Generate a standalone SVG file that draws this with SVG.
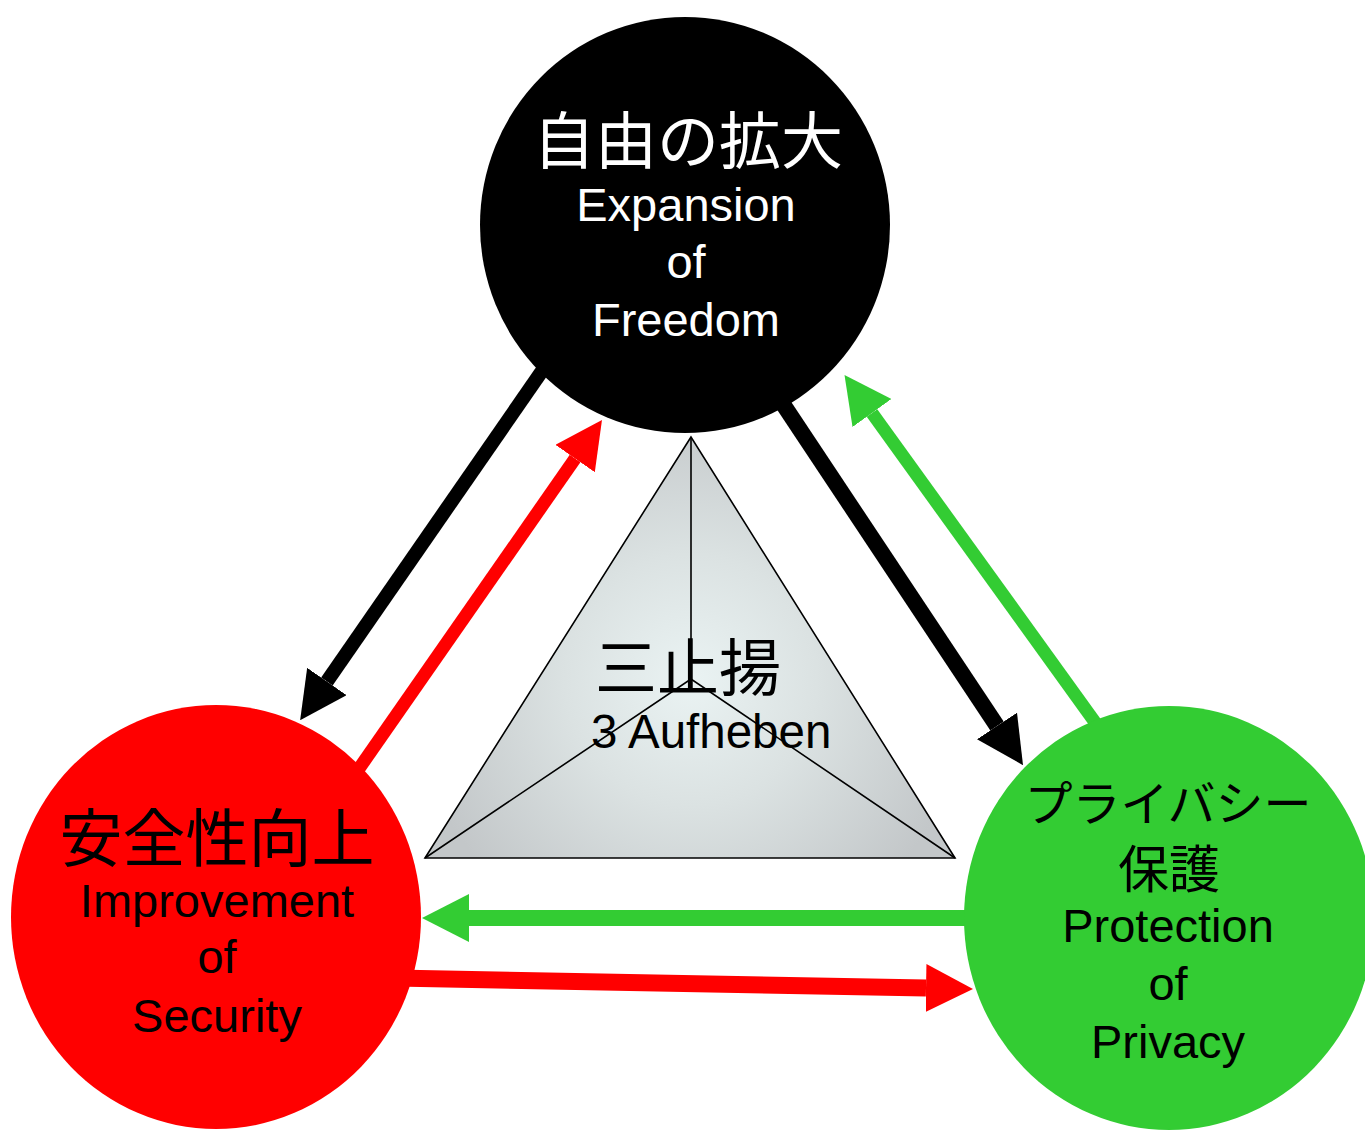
<svg xmlns="http://www.w3.org/2000/svg" width="1365" height="1130" viewBox="0 0 1365 1130">
<style>
.en{font-family:"Liberation Sans",Arial,sans-serif;text-anchor:middle}
.jp{font-family:"Noto Sans CJK JP","Noto Sans CJK SC",sans-serif;text-anchor:middle}
.w{fill:#ffffff}
.k{fill:#000000}
.sh{fill:none;stroke-linecap:butt}
.edge{fill:none;stroke:#000;stroke-width:1.6}
</style>
<defs>
<radialGradient id="metal" cx="691" cy="680" r="280" gradientUnits="userSpaceOnUse">
<stop offset="0" stop-color="#eaf3f3"/>
<stop offset="0.45" stop-color="#dbe2e2"/>
<stop offset="1" stop-color="#c3c7c9"/>
</radialGradient>
<marker id="hk" markerUnits="userSpaceOnUse" markerWidth="47" markerHeight="48" refX="0" refY="24" orient="auto" viewBox="0 0 47 48"><path d="M0,0 L47,24 L0,48 Z" fill="#000"/></marker>
<marker id="hr" markerUnits="userSpaceOnUse" markerWidth="47" markerHeight="48" refX="0" refY="24" orient="auto" viewBox="0 0 47 48"><path d="M0,0 L47,24 L0,48 Z" fill="#ff0000"/></marker>
<marker id="hg" markerUnits="userSpaceOnUse" markerWidth="47" markerHeight="48" refX="0" refY="24" orient="auto" viewBox="0 0 47 48"><path d="M0,0 L47,24 L0,48 Z" fill="#33cc33"/></marker>
</defs>
<rect width="1365" height="1130" fill="#ffffff"/>
<g id="connectors">
<line class="sh" x1="560" y1="345" x2="326.9" y2="681.5" stroke="#000" stroke-width="14" marker-end="url(#hk)"/>
<line class="sh" x1="335" y1="803" x2="575.1" y2="458.5" stroke="#ff0000" stroke-width="13" marker-end="url(#hr)"/>
<line class="sh" x1="765" y1="377" x2="997" y2="726" stroke="#000" stroke-width="16" marker-end="url(#hk)"/>
<line class="sh" x1="1115" y1="750" x2="872" y2="413" stroke="#33cc33" stroke-width="13" marker-end="url(#hg)"/>
<line class="sh" x1="1000" y1="918" x2="469" y2="918" stroke="#33cc33" stroke-width="16" marker-end="url(#hg)"/>
<line class="sh" x1="395" y1="978" x2="926" y2="988.1" stroke="#ff0000" stroke-width="17" marker-end="url(#hr)"/>
</g>
<g id="triangle">
<polygon points="691,437 425,858 955,858" fill="url(#metal)" stroke="#000" stroke-width="1.6" stroke-linejoin="miter"/>
<path class="edge" d="M691,437 L691,679 M425,858 L691,679 L955,858"/>
<text class="jp k" x="688" y="691" font-size="62">三止揚</text>
<text class="en k" x="591" y="748" font-size="47.5" style="text-anchor:start">3 Aufheben</text>
</g>
<g id="freedom">
<ellipse cx="685" cy="225" rx="205" ry="208" fill="#000"/>
<text class="jp w" x="688" y="164" font-size="62">自由の拡大</text>
<text class="en w" x="686" y="221" font-size="47">Expansion</text>
<text class="en w" x="686" y="278" font-size="47">of</text>
<text class="en w" x="686" y="336" font-size="47">Freedom</text>
</g>
<g id="security">
<ellipse cx="216" cy="917" rx="205" ry="212" fill="#ff0000"/>
<text class="jp k" x="217" y="861" font-size="63">安全性向上</text>
<text class="en k" x="217" y="917" font-size="47">Improvement</text>
<text class="en k" x="217" y="973" font-size="47">of</text>
<text class="en k" x="217" y="1032" font-size="47">Security</text>
</g>
<g id="privacy">
<ellipse cx="1169" cy="918" rx="205" ry="212" fill="#33cc33"/>
<text class="jp k" x="1168" y="821" font-size="48">プライバシー</text>
<text class="jp k" x="1169" y="888" font-size="51">保護</text>
<text class="en k" x="1168" y="942" font-size="47">Protection</text>
<text class="en k" x="1168" y="1000" font-size="47">of</text>
<text class="en k" x="1168" y="1058" font-size="47">Privacy</text>
</g>
</svg>
